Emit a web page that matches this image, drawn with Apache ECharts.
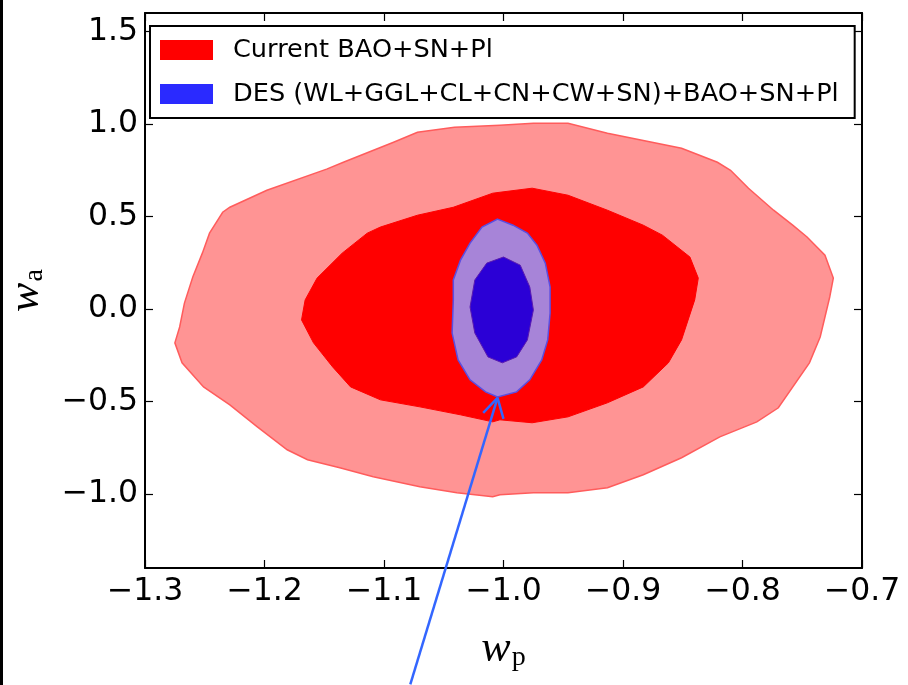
<!DOCTYPE html>
<html>
<head>
<meta charset="utf-8">
<script src="https://cdn.jsdelivr.net/npm/echarts@6/dist/echarts.min.js"></script>
<style>
  html, body { margin: 0; padding: 0; background: #fff; }
  #container { width: 908px; height: 685px; }
</style>
</head>
<body>
<div id="container"></div>

<script type="text/javascript">
    // contour outlines, [w_p, w_a]
    var redOuter = [
        [-1.003, 0.993], [-0.975, 1.004], [-0.946, 1.004], [-0.913, 0.950], [-0.851, 0.869],
        [-0.821, 0.793], [-0.810, 0.750], [-0.795, 0.653], [-0.774, 0.534], [-0.758, 0.453],
        [-0.746, 0.389], [-0.731, 0.291], [-0.724, 0.167], [-0.727, 0.065], [-0.735, -0.151],
        [-0.744, -0.291], [-0.770, -0.534], [-0.788, -0.610], [-0.819, -0.691], [-0.851, -0.804],
        [-0.883, -0.896], [-0.913, -0.966], [-0.946, -0.993], [-0.975, -0.993], [-1.003, -1.004],
        [-1.009, -1.015], [-1.039, -0.993], [-1.070, -0.961], [-1.109, -0.907], [-1.137, -0.858],
        [-1.164, -0.815], [-1.181, -0.761], [-1.206, -0.637], [-1.229, -0.518], [-1.251, -0.421],
        [-1.269, -0.291], [-1.275, -0.183], [-1.271, -0.097], [-1.267, 0.032], [-1.260, 0.173],
        [-1.252, 0.302], [-1.246, 0.410], [-1.235, 0.523], [-1.229, 0.550], [-1.198, 0.642],
        [-1.148, 0.756], [-1.134, 0.793], [-1.092, 0.901], [-1.072, 0.955], [-1.041, 0.982]
    ];
    var redInner = [
        [-1.003, 0.631], [-0.976, 0.653], [-0.946, 0.615], [-0.913, 0.534], [-0.883, 0.453],
        [-0.867, 0.399], [-0.844, 0.281], [-0.837, 0.167], [-0.840, 0.049], [-0.851, -0.167],
        [-0.862, -0.291], [-0.883, -0.421], [-0.913, -0.507], [-0.946, -0.583], [-0.976, -0.615],
        [-1.003, -0.599], [-1.009, -0.610], [-1.036, -0.572], [-1.070, -0.529], [-1.103, -0.491],
        [-1.128, -0.421], [-1.143, -0.313], [-1.159, -0.183], [-1.169, -0.059], [-1.166, 0.049],
        [-1.156, 0.167], [-1.135, 0.302], [-1.114, 0.410], [-1.103, 0.443], [-1.072, 0.507],
        [-1.042, 0.550], [-1.009, 0.626]
    ];
    var blueOuter = [
        [-1.005, 0.486], [-0.992, 0.453], [-0.980, 0.410], [-0.972, 0.345], [-0.965, 0.248],
        [-0.961, 0.119], [-0.961, -0.022], [-0.963, -0.167], [-0.968, -0.275], [-0.978, -0.383],
        [-0.989, -0.448], [-1.005, -0.475], [-1.015, -0.448], [-1.028, -0.383], [-1.038, -0.275],
        [-1.043, -0.130], [-1.042, 0.049], [-1.042, 0.157], [-1.036, 0.264], [-1.028, 0.356],
        [-1.018, 0.443]
    ];
    var blueInner = [
        [-1.000, 0.281], [-0.986, 0.237], [-0.978, 0.119], [-0.975, -0.005], [-0.980, -0.167],
        [-0.989, -0.259], [-1.001, -0.291], [-1.013, -0.259], [-1.024, -0.130], [-1.028, 0.011],
        [-1.024, 0.157], [-1.014, 0.248]
    ];
    // annotation arrow
    var arrowShaft = [[-1.078, -2.029], [-1.005, -0.480]];
    var arrowHead = [[-1.017, -0.561], [-1.005, -0.480], [-1.000, -0.594]];

    var xTicks = [-1.3, -1.2, -1.1, -1.0, -0.9, -0.8, -0.7];
    var yTicks = [-1.0, -0.5, 0.0, 0.5, 1.0, 1.5];

    var nameCurrent = 'Current BAO+SN+Pl';
    var nameDes = 'DES (WL+GGL+CL+CN+CW+SN)+BAO+SN+Pl';

    var myChart = echarts.init(document.getElementById('container'));

    function fmt(v) {
        return v.toFixed(1).replace('-', '\u2212');
    }

    function polygonSeries(name, points, style) {
        return {
            name: name,
            type: 'custom',
            coordinateSystem: 'cartesian2d',
            silent: true,
            data: points,
            renderItem: function (params, api) {
                if (params.dataIndex !== 0) return null;
                var pts = points.map(function (p) { return api.coord(p); });
                return { type: 'polygon', shape: { points: pts }, style: style };
            }
        };
    }

    var labelFont = { fontFamily: 'DejaVu Sans', fontSize: 31.5, color: '#000' };
    var tickStyle = { show: true, inside: true, length: 8, lineStyle: { color: '#000', width: 1.2 } };
    var lineStyle = { show: true, onZero: false, lineStyle: { color: '#000', width: 2 } };

    var option = {
        animation: false,
        backgroundColor: '#fff',
        graphic: [{
            type: 'rect', left: 0, top: 0, shape: { width: 3, height: 685 }, style: { fill: '#000' }
        }],
        grid: { left: 145, right: 46, top: 13, bottom: 117, containLabel: false, outerBoundsMode: 'none' },
        legend: {
            orient: 'vertical',
            left: 150,
            top: 26,
            icon: 'rect',
            itemWidth: 53,
            itemHeight: 20,
            itemGap: 18,
            padding: [11, 16, 11, 10],
            backgroundColor: '#fff',
            borderColor: '#000',
            borderWidth: 2,
            borderRadius: 0,
            selectedMode: false,
            textStyle: { fontFamily: 'DejaVu Sans', fontSize: 25.6, color: '#000', lineHeight: 20, padding: [0, 0, 0, 15] },
            data: [
                { name: nameCurrent, itemStyle: { color: '#ff0000', borderWidth: 0 } },
                { name: nameDes, itemStyle: { color: '#2a2aff', borderWidth: 0 } }
            ],
            z: 10
        },
        xAxis: [{
            type: 'value',
            min: -1.3, max: -0.7, interval: 0.1,
            position: 'bottom',
            splitLine: { show: false },
            axisLine: lineStyle,
            axisTick: tickStyle,
            axisLabel: Object.assign({ margin: 8, formatter: fmt, customValues: xTicks }, labelFont),
            name: '{w|w}{s|p}',
            nameLocation: 'middle',
            nameGap: 58,
            nameTextStyle: {
                rich: {
                    w: { fontFamily: 'Liberation Serif', fontStyle: 'italic', fontSize: 44, color: '#000' },
                    s: { fontFamily: 'Liberation Serif', fontSize: 28, color: '#000', padding: [18, 0, 0, 1] }
                }
            }
        }, {
            type: 'value',
            min: -1.3, max: -0.7, interval: 0.1,
            position: 'top',
            splitLine: { show: false },
            axisLine: lineStyle,
            axisTick: tickStyle,
            axisLabel: { show: false }
        }],
        yAxis: [{
            type: 'value',
            min: -1.4, max: 1.6,
            position: 'left',
            splitLine: { show: false },
            axisLine: lineStyle,
            axisTick: Object.assign({ customValues: yTicks }, tickStyle),
            axisLabel: Object.assign({ margin: 7, formatter: fmt, customValues: yTicks }, labelFont),
            name: '{w|w}{s|a}',
            nameLocation: 'middle',
            nameRotate: 90,
            nameGap: 96,
            nameTextStyle: {
                rich: {
                    w: { fontFamily: 'Liberation Serif', fontStyle: 'italic', fontSize: 44, color: '#000' },
                    s: { fontFamily: 'Liberation Serif', fontSize: 28, color: '#000', padding: [18, 0, 0, 1] }
                }
            }
        }, {
            type: 'value',
            min: -1.4, max: 1.6,
            position: 'right',
            splitLine: { show: false },
            axisLine: lineStyle,
            axisTick: Object.assign({ customValues: yTicks }, tickStyle),
            axisLabel: { show: false, customValues: yTicks }
        }],
        series: [
            polygonSeries('red2', redOuter, { fill: '#ff9494', stroke: '#ff5c5c', lineWidth: 1.5 }),
            polygonSeries(nameCurrent, redInner, { fill: '#ff0000', stroke: '#ff0000', lineWidth: 1 }),
            polygonSeries(nameDes, blueOuter, { fill: '#a784d8', stroke: '#5a4ee2', lineWidth: 1.5 }),
            polygonSeries('blue1', blueInner, { fill: '#2b00d6', stroke: '#5a1ab0', lineWidth: 1 }),
            {
                name: 'arrow1', type: 'line', data: arrowShaft, clip: false, symbol: 'none', silent: true,
                lineStyle: { color: '#3366ff', width: 2.5 }, z: 5
            },
            {
                name: 'arrow2', type: 'line', data: arrowHead, clip: false, symbol: 'none', silent: true,
                lineStyle: { color: '#3366ff', width: 2.5 }, z: 5
            }
        ]
    };

    myChart.setOption(option);
</script>
</body>
</html>
